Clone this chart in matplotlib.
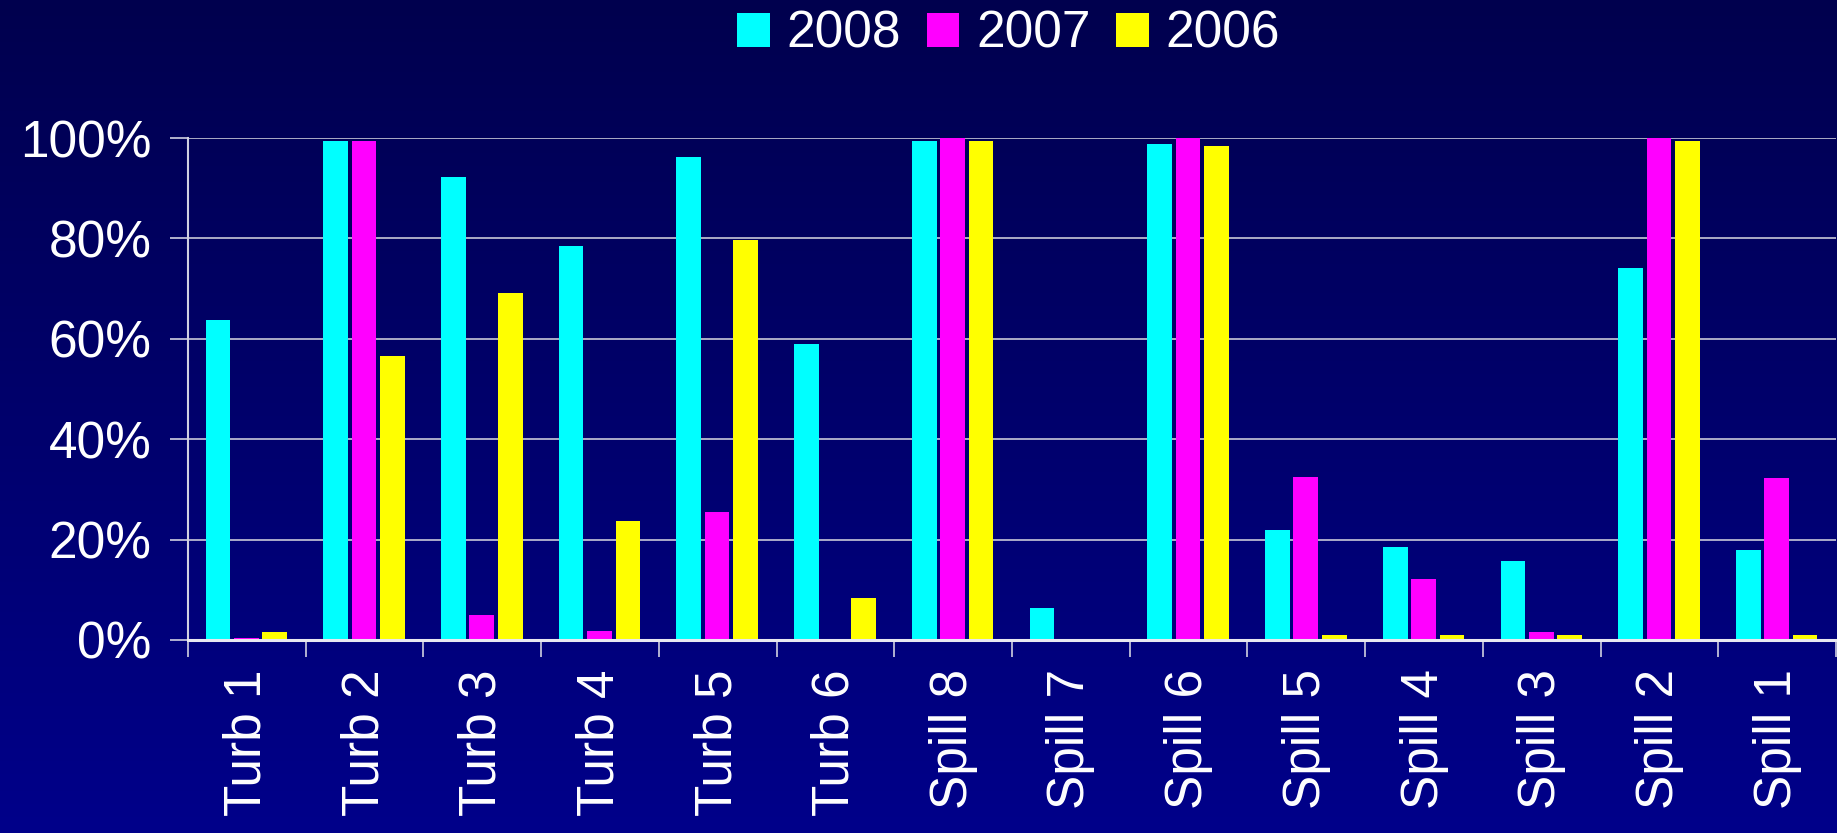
import matplotlib
matplotlib.use('Agg')
import matplotlib.pyplot as plt
from matplotlib.patches import Patch
from matplotlib.ticker import PercentFormatter, FixedLocator
import numpy as np

plt.rcParams['font.family'] = ['Liberation Sans', 'DejaVu Sans']

# data (percent)
categories = ['Turb 1', 'Turb 2', 'Turb 3', 'Turb 4', 'Turb 5', 'Turb 6', 'Spill 8',
              'Spill 7', 'Spill 6', 'Spill 5', 'Spill 4', 'Spill 3', 'Spill 2', 'Spill 1']
v2008 = [63.8, 99.5, 92.3, 78.5, 96.3, 58.9, 99.5, 6.4, 98.8, 21.9, 18.6, 15.7, 74.1, 17.9]
v2007 = [0.4, 99.5, 4.9, 1.8, 25.5, 0.0, 100.0, 0.0, 100.0, 32.5, 12.1, 1.6, 100.0, 32.2]
v2006 = [1.6, 56.6, 69.2, 23.8, 79.7, 8.3, 99.5, 0.0, 98.4, 0.9, 0.9, 0.9, 99.4, 0.9]
series_labels = ['2008', '2007', '2006']
colors = ['#00FFFF', '#FF00FF', '#FFFF00']

FS = 37

fig = plt.figure(figsize=(18.37, 8.33), dpi=100)

# vertical navy gradient behind everything
bg = fig.add_axes([0, 0, 1, 1])
grad = np.linspace(0, 1, 256).reshape(-1, 1)
top_c = np.array([0, 0, 0x4E]) / 255.0
bot_c = np.array([0, 0, 0x8A]) / 255.0
img = top_c[None, None, :] * (1 - grad[:, :, None]) + bot_c[None, None, :] * grad[:, :, None]
bg.imshow(img, aspect='auto', extent=[0, 1, 0, 1], origin='upper')
bg.set_axis_off()

ax = fig.add_axes([0.1023, 0.2317, 0.8972, 0.6026])
ax.set_facecolor('none')

x = np.arange(len(categories)) + 0.5
width = 0.21
offsets = [-0.245, -0.005, 0.237]
for vals, off, c, lab in zip([v2008, v2007, v2006], offsets, colors, series_labels):
    ax.bar(x + off, vals, width=width, color=c, label=lab, zorder=3)

ax.set_xlim(0, len(categories))
ax.set_ylim(0, 100)

# gridlines
ax.set_yticks([0, 20, 40, 60, 80, 100])
ax.yaxis.set_major_formatter(PercentFormatter(xmax=100, decimals=0))
ax.grid(axis='y', color='#C8C8D8', linewidth=1.2, zorder=1)
ax.grid(axis='x', visible=False)

# category boundaries as ticks, labels at centres
ax.xaxis.set_major_locator(FixedLocator(np.arange(len(categories) + 1)))
ax.xaxis.set_major_formatter(plt.NullFormatter())
ax.xaxis.set_minor_locator(FixedLocator(x))
ax.set_xticklabels(categories, minor=True, rotation=90, fontsize=FS, color='white', va='top')
ax.tick_params(axis='x', which='major', length=12, width=1.2, color='#D0D0E0', direction='out')
ax.tick_params(axis='x', which='minor', length=0, pad=21)
ax.tick_params(axis='y', length=13, width=1.2, color='#D0D0E0', labelsize=FS,
               labelcolor='white', pad=13)

for side in ['top', 'right']:
    ax.spines[side].set_visible(False)
ax.spines['left'].set_color('#D0D0E0')
ax.spines['left'].set_linewidth(1.5)
ax.spines['bottom'].set_color('#E8E8F0')
ax.spines['bottom'].set_linewidth(2.2)
ax.spines['bottom'].set_zorder(4)

handles = [Patch(facecolor=c, edgecolor='none') for c in colors]
fig.legend(handles, series_labels, loc='center', bbox_to_anchor=(0.549, 0.959), ncol=3,
           frameon=False, fontsize=FS, labelcolor='white', handlelength=0.64,
           handleheight=0.64, handletextpad=0.32, columnspacing=0.5, borderpad=0)

fig.savefig('out.png', dpi=100)
